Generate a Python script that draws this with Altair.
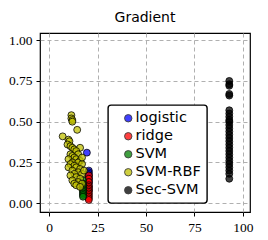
import altair as alt
import pandas as pd

series = ["logistic", "ridge", "SVM", "SVM-RBF", "Sec-SVM"]
colors = ["#0000ff", "#ff0000", "#008000", "#bfbf00", "#000000"]

log_x = [19.5, 20.5, 20.5, 20.5, 20.5, 20.5, 20.5, 20.5, 20.5, 20.5, 20.5, 20.5]
log_y = [0.31, 0.20, 0.19, 0.18, 0.17, 0.16, 0.15, 0.14, 0.13, 0.12, 0.10, 0.08]

ridge_x = [20.5, 20.5, 20.5, 20.5, 20.5, 20.5, 20.5, 20.5, 20.5, 20.5, 20.5, 20.5, 20.5]
ridge_y = [0.17, 0.15, 0.13, 0.11, 0.10, 0.09, 0.08, 0.07, 0.06, 0.05, 0.04, 0.03, 0.02]

svm_x = [17.5, 17.5, 17.5, 17.5, 17.5, 17.5, 17.5, 17.5, 17.5, 17.5]
svm_y = [0.14, 0.12, 0.11, 0.10, 0.09, 0.08, 0.07, 0.06, 0.05, 0.04]

rbf_x = [11.5, 11.5, 12, 12, 14.5, 7, 10, 10.5, 9.5, 11, 12, 13, 16, 14, 11, 12, 15,
         13, 10, 14, 16, 12, 15, 11, 13, 17, 10, 14, 16, 12, 15, 13, 11, 17, 14, 16,
         12, 15, 13, 17, 14, 16, 18, 17]
rbf_y = [0.54, 0.52, 0.51, 0.50, 0.45, 0.41, 0.39, 0.38, 0.36, 0.35, 0.34, 0.33, 0.34,
         0.32, 0.30, 0.29, 0.30, 0.28, 0.27, 0.27, 0.26, 0.25, 0.25, 0.24, 0.23, 0.24,
         0.22, 0.22, 0.21, 0.20, 0.19, 0.18, 0.17, 0.18, 0.16, 0.15, 0.14, 0.13, 0.12,
         0.12, 0.11, 0.10, 0.20, 0.28]

sec_y = [0.75, 0.73, 0.72, 0.67, 0.66, 0.57, 0.55, 0.53, 0.51, 0.50, 0.48, 0.46,
         0.44, 0.42, 0.40, 0.38, 0.36, 0.34, 0.32, 0.30, 0.28, 0.26, 0.24, 0.22,
         0.20, 0.18, 0.15]
sec_x = [93.0] * len(sec_y)

rows = []
for name, xs, ys in [("logistic", log_x, log_y), ("ridge", ridge_x, ridge_y),
                     ("SVM", svm_x, svm_y), ("SVM-RBF", rbf_x, rbf_y),
                     ("Sec-SVM", sec_x, sec_y)]:
    for xv, yv in zip(xs, ys):
        rows.append({"x": xv, "y": yv, "series": name})
df = pd.DataFrame(rows)

x_ticks = [0, 25, 50, 75, 100]
y_ticks = [0.0, 0.25, 0.5, 0.75, 1.0]

chart = alt.Chart(df).mark_circle(
    size=48, stroke="black", strokeWidth=0.9, fillOpacity=0.75, strokeOpacity=0.85, opacity=1
).encode(
    x=alt.X("x:Q", scale=alt.Scale(domain=[-4.7, 103.7], nice=False, zero=False),
            axis=alt.Axis(values=x_ticks, format="d", title=None)),
    y=alt.Y("y:Q", scale=alt.Scale(domain=[-0.054, 1.044], nice=False, zero=False),
            axis=alt.Axis(values=y_ticks, format=".2f", title=None)),
    color=alt.Color("series:N", scale=alt.Scale(domain=series, range=colors),
                    sort=series,
                    legend=alt.Legend(title=None, orient="none", legendX=68, legendY=72,
                                      symbolType="circle", symbolSize=55,
                                      symbolStrokeColor="black", symbolStrokeWidth=0.9,
                                      symbolOpacity=0.75, symbolOffset=7,
                                      labelFont="DejaVu Sans", labelFontSize=14.5,
                                      labelColor="black", labelOffset=0,
                                      rowPadding=3, padding=6,
                                      strokeColor="black", fillColor="white",
                                      cornerRadius=3)),
    order=alt.Order("idx:Q"),
).transform_window(
    idx="row_number()"
).properties(
    width=210, height=179,
    title=alt.TitleParams("Gradient", font="DejaVu Sans", fontSize=14,
                          fontWeight="normal", color="black", offset=8),
    autosize=alt.AutoSizeParams(type="none"),
    padding={"left": 32, "top": 25, "right": 10, "bottom": 24},
).configure_view(
    stroke="black", strokeWidth=1.2
).configure_axis(
    grid=True, gridColor="#b0b0b0", gridDash=[4, 3], gridWidth=1,
    domain=False, ticks=True, tickColor="black", tickSize=4, tickWidth=1,
    labelFont="Liberation Serif", labelFontSize=13.5, labelColor="black", labelPadding=4,
).configure_legend(
    strokeWidth=1.4
)

chart.save("out.html", embed_options={"renderer": "svg", "actions": False})
